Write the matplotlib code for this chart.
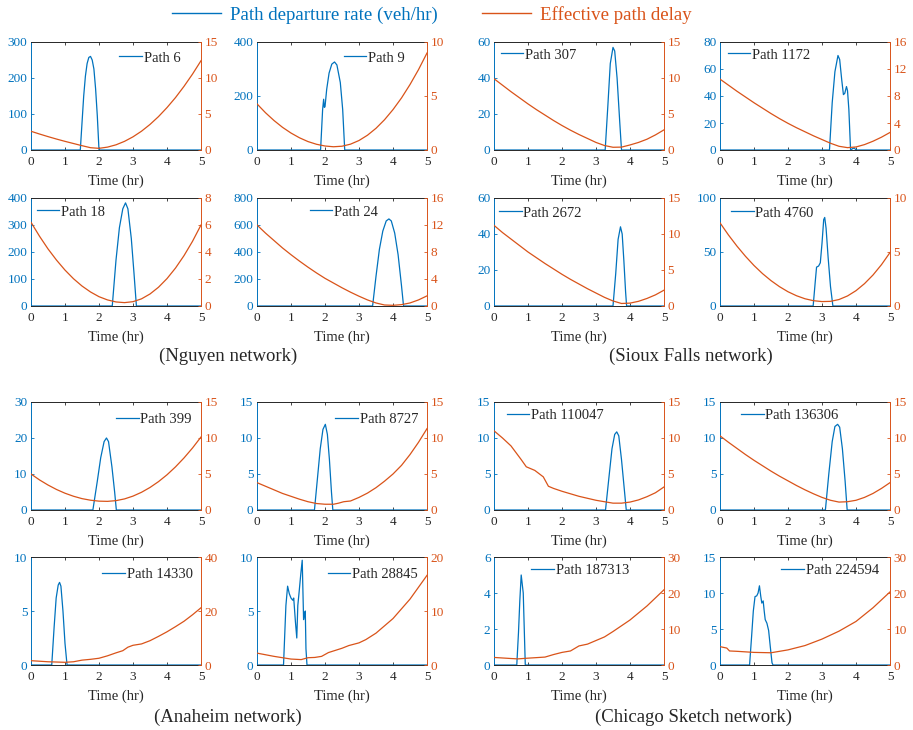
import matplotlib
matplotlib.use("Agg")
import matplotlib.pyplot as plt
from matplotlib.lines import Line2D

BLUE = '#0072BD'
ORANGE = '#D95319'
GRAY = '#262626'

plt.rcParams['font.family'] = ['Liberation Serif', 'DejaVu Serif']

# shared time grid (hr) for the smooth delay curves
grid = [0, 0.25, 0.5, 0.75, 1, 1.25, 1.5, 1.75, 2, 2.25, 2.5,
        2.75, 3, 3.25, 3.5, 3.75, 4, 4.25, 4.5, 4.75, 5]

# ---- Nguyen network ----
dep_t_6 = [0, 1.45, 1.5, 1.55, 1.6, 1.65, 1.7, 1.75, 1.8, 1.85, 1.9, 1.95, 2.0, 5]
dep_r_6 = [0, 0, 75, 150, 205, 240, 257, 260, 250, 225, 170, 95, 0, 0]
delay_6 = [2.6, 2.22, 1.86, 1.52, 1.2, 0.9, 0.6, 0.32, 0.23, 0.4, 0.72,
           1.2, 1.83, 2.61, 3.55, 4.64, 5.89, 7.28, 8.84, 10.54, 12.4]

dep_t_9 = [0, 1.87, 1.93, 1.96, 1.98, 2.0, 2.05, 2.12, 2.2, 2.28, 2.35, 2.45, 2.52, 2.58, 5]
dep_r_9 = [0, 0, 150, 188, 158, 160, 225, 285, 318, 326, 315, 250, 150, 0, 0]
delay_9 = [4.27, 3.45, 2.73, 2.1, 1.57, 1.13, 0.78, 0.53, 0.37, 0.3, 0.35,
           0.54, 0.88, 1.37, 2.01, 2.8, 3.74, 4.82, 6.06, 7.44, 8.98]

dep_t_18 = [0, 2.39, 2.5, 2.6, 2.7, 2.78, 2.85, 2.95, 3.03, 3.1, 5]
dep_r_18 = [0, 0, 170, 290, 360, 382, 360, 250, 120, 0, 0]
delay_18 = [6.2, 5.17, 4.23, 3.4, 2.66, 2.02, 1.48, 1.04, 0.69, 0.45, 0.3,
            0.25, 0.32, 0.53, 0.89, 1.39, 2.03, 2.81, 3.73, 4.79, 6.0]

dep_t_24 = [0, 3.4, 3.5, 3.6, 3.7, 3.8, 3.88, 3.95, 4.05, 4.15, 4.25, 4.31, 5]
dep_r_24 = [0, 0, 220, 420, 555, 630, 645, 630, 540, 380, 150, 0, 0]
delay_24 = [12.0, 10.8, 9.7, 8.6, 7.6, 6.65, 5.75, 4.9, 4.1, 3.4, 2.7,
            2.05, 1.45, 0.9, 0.45, 0.15, 0.1, 0.2, 0.45, 0.9, 1.5]

# ---- Sioux Falls network ----
dep_t_307 = [0, 3.27, 3.35, 3.42, 3.5, 3.55, 3.62, 3.7, 3.75, 5]
dep_r_307 = [0, 0, 25, 48, 57, 55, 40, 15, 0, 0]
delay_307 = [9.9, 9.0, 8.1, 7.25, 6.4, 5.6, 4.85, 4.1, 3.4, 2.75, 2.15,
             1.6, 1.05, 0.62, 0.38, 0.4, 0.7, 1.05, 1.5, 2.1, 2.8]

dep_t_1172 = [0, 3.22, 3.3, 3.38, 3.47, 3.52, 3.58, 3.63, 3.67, 3.72, 3.75,
              3.79, 3.84, 3.9, 3.95, 4.0, 5]
dep_r_1172 = [0, 0, 35, 58, 70, 67, 52, 41, 42, 47, 44, 30, 0, 1, 1.5, 0, 0]
delay_1172 = [10.5, 9.6, 8.7, 7.85, 7.0, 6.2, 5.4, 4.65, 3.95, 3.3, 2.7,
              2.1, 1.55, 1.0, 0.55, 0.35, 0.45, 0.8, 1.3, 1.9, 2.6]

dep_t_2672 = [0, 3.5, 3.58, 3.65, 3.72, 3.77, 3.82, 3.87, 3.9, 5]
dep_r_2672 = [0, 0, 18, 37, 44, 40, 25, 8, 0, 0]
delay_2672 = [11.2, 10.2, 9.3, 8.4, 7.5, 6.7, 5.9, 5.15, 4.4, 3.7, 3.05,
              2.4, 1.8, 1.2, 0.7, 0.35, 0.4, 0.65, 1.05, 1.55, 2.2]

dep_t_4760 = [0, 2.74, 2.8, 2.84, 2.9, 2.95, 3.0, 3.05, 3.08, 3.12, 3.18, 3.25, 3.32, 5]
dep_r_4760 = [0, 0, 22, 36, 37, 40, 58, 80, 82, 72, 45, 18, 0, 0]
delay_4760 = [7.7, 6.57, 5.54, 4.6, 3.75, 3.0, 2.35, 1.79, 1.32, 0.95, 0.67,
              0.49, 0.41, 0.43, 0.6, 0.93, 1.42, 2.07, 2.87, 3.83, 4.95]

# ---- Anaheim network ----
dep_t_399 = [0, 1.82, 1.95, 2.05, 2.15, 2.22, 2.28, 2.38, 2.46, 2.51, 5]
dep_r_399 = [0, 0, 8, 14.5, 19, 20, 19, 12, 5, 0, 0]
delay_399 = [5.0, 4.18, 3.47, 2.85, 2.33, 1.91, 1.58, 1.36, 1.23, 1.2, 1.3,
             1.54, 1.93, 2.46, 3.13, 3.94, 4.89, 5.99, 7.23, 8.61, 10.14]

dep_t_8727 = [0, 1.69, 1.78, 1.86, 1.94, 2.01, 2.07, 2.13, 2.19, 2.23, 5]
dep_r_8727 = [0, 0, 4.5, 8.5, 11.2, 11.9, 10.5, 7, 2.5, 0, 0]
delay_t_8727 = [0, 0.25, 0.5, 0.75, 1, 1.25, 1.5, 1.75, 2, 2.25, 2.4, 2.55,
                2.75, 3, 3.25, 3.5, 3.75, 4, 4.25, 4.5, 4.75, 5]
delay_8727 = [3.8, 3.3, 2.8, 2.3, 1.9, 1.5, 1.15, 0.9, 0.8, 0.8, 0.95, 1.15,
              1.25, 1.75, 2.35, 3.1, 4.0, 5.0, 6.2, 7.7, 9.4, 11.3]

dep_t_14330 = [0, 0.61, 0.68, 0.74, 0.8, 0.84, 0.88, 0.94, 1.0, 1.06, 5]
dep_r_14330 = [0, 0, 3.5, 6.2, 7.4, 7.65, 7.3, 5.0, 2.0, 0, 0]
delay_t_14330 = [0, 0.5, 1.0, 1.25, 1.5, 1.75, 2.0, 2.25, 2.5, 2.7, 2.85, 3.0,
                 3.25, 3.5, 3.75, 4.0, 4.25, 4.5, 4.75, 5.0]
delay_14330 = [1.6, 1.2, 1.0, 1.2, 1.8, 2.1, 2.5, 3.4, 4.5, 5.3, 6.6, 7.3,
               7.8, 9.0, 10.6, 12.3, 14.2, 16.2, 18.6, 21.2]

dep_t_28845 = [0, 0.78, 0.85, 0.9, 0.95, 1.0, 1.05, 1.08, 1.13, 1.17, 1.2, 1.24,
               1.29, 1.33, 1.37, 1.39, 1.42, 1.44, 1.47, 5]
dep_r_28845 = [0, 0, 5.5, 7.3, 6.6, 6.2, 6.0, 6.2, 4.0, 2.5, 5.5, 6.8,
               8.5, 9.7, 4.2, 4.6, 5.0, 1.5, 0, 0]
delay_t_28845 = [0, 0.5, 1.0, 1.3, 1.5, 1.7, 1.9, 2.1, 2.5, 2.7, 3.0, 3.2,
                 3.5, 4.0, 4.5, 5.0]
delay_28845 = [2.2, 1.6, 1.1, 1.0, 1.35, 1.4, 1.6, 2.3, 3.1, 3.6, 4.1, 4.7,
               5.9, 8.6, 12.2, 16.6]

# ---- Chicago Sketch network ----
dep_t_110047 = [0, 3.28, 3.38, 3.47, 3.55, 3.61, 3.67, 3.75, 3.83, 3.89, 5]
dep_r_110047 = [0, 0, 4.5, 8.5, 10.5, 10.85, 10.3, 7, 3, 0, 0]
delay_t_110047 = [0, 0.25, 0.5, 0.8, 0.95, 1.2, 1.45, 1.6, 1.75, 2.0, 2.5,
                  3.0, 3.5, 3.75, 4.0, 4.25, 4.5, 4.75, 5.0]
delay_110047 = [11.0, 10.0, 8.9, 7.0, 6.0, 5.5, 4.6, 3.3, 3.0, 2.6, 1.9,
                1.35, 0.95, 0.95, 1.1, 1.4, 1.85, 2.4, 3.2]

dep_t_136306 = [0, 3.1, 3.2, 3.3, 3.38, 3.46, 3.52, 3.6, 3.68, 3.74, 5]
dep_r_136306 = [0, 0, 5, 9.5, 11.6, 11.9, 11.5, 8.5, 4, 0, 0]
delay_136306 = [10.3, 9.4, 8.55, 7.7, 6.9, 6.15, 5.4, 4.7, 4.05, 3.4, 2.8,
                2.25, 1.75, 1.35, 1.1, 1.15, 1.35, 1.75, 2.3, 3.0, 3.8]

dep_t_187313 = [0, 0.67, 0.72, 0.76, 0.8, 0.83, 0.86, 0.89, 0.92, 5]
dep_r_187313 = [0, 0, 1.8, 3.6, 5.0, 4.5, 4.0, 2.0, 0, 0]
delay_t_187313 = [0, 0.5, 0.7, 1.0, 1.5, 1.75, 2.0, 2.25, 2.5, 2.75, 3.0,
                  3.25, 3.5, 4.0, 4.5, 5.0]
delay_187313 = [2.1, 1.8, 1.7, 1.9, 2.2, 2.9, 3.5, 3.9, 5.3, 5.8, 6.8,
                7.8, 9.3, 12.5, 16.4, 20.9]

dep_t_224594 = [0, 0.87, 0.93, 0.98, 1.03, 1.08, 1.12, 1.16, 1.2, 1.23, 1.27,
                1.3, 1.33, 1.38, 1.43, 1.48, 1.53, 1.56, 5]
dep_r_224594 = [0, 0, 4.0, 7.5, 9.5, 9.6, 10.0, 11.0, 9.5, 8.6, 8.9,
                7.5, 6.3, 5.8, 4.8, 2.5, 0.3, 0, 0]
delay_t_224594 = [0, 0.2, 0.28, 0.5, 1.0, 1.5, 2.0, 2.5, 3.0, 3.5, 4.0, 4.5, 5.0]
delay_224594 = [5.1, 4.7, 3.9, 3.8, 3.5, 3.4, 4.2, 5.4, 7.2, 9.4, 12.1, 15.9, 20.3]

# panel order, left axis (max, step), right axis (max, step)
paths = [6, 9, 307, 1172, 18, 24, 2672, 4760,
         399, 8727, 110047, 136306, 14330, 28845, 187313, 224594]
rate_axis = [(300, 100), (400, 200), (60, 20), (80, 20),
             (400, 100), (800, 200), (60, 20), (100, 50),
             (30, 10), (15, 5), (15, 5), (15, 5),
             (10, 5), (10, 5), (6, 2), (15, 5)]
delay_axis = [(15, 5), (10, 5), (15, 5), (16, 4),
              (8, 2), (16, 4), (15, 5), (10, 5),
              (15, 5), (15, 5), (15, 5), (15, 5),
              (40, 20), (20, 10), (30, 10), (30, 10)]

dep = {6: (dep_t_6, dep_r_6), 9: (dep_t_9, dep_r_9), 18: (dep_t_18, dep_r_18),
       24: (dep_t_24, dep_r_24), 307: (dep_t_307, dep_r_307),
       1172: (dep_t_1172, dep_r_1172), 2672: (dep_t_2672, dep_r_2672),
       4760: (dep_t_4760, dep_r_4760), 399: (dep_t_399, dep_r_399),
       8727: (dep_t_8727, dep_r_8727), 14330: (dep_t_14330, dep_r_14330),
       28845: (dep_t_28845, dep_r_28845), 110047: (dep_t_110047, dep_r_110047),
       136306: (dep_t_136306, dep_r_136306), 187313: (dep_t_187313, dep_r_187313),
       224594: (dep_t_224594, dep_r_224594)}
delay = {6: (grid, delay_6), 9: (grid, delay_9), 18: (grid, delay_18),
         24: (grid, delay_24), 307: (grid, delay_307), 1172: (grid, delay_1172),
         2672: (grid, delay_2672), 4760: (grid, delay_4760), 399: (grid, delay_399),
         8727: (delay_t_8727, delay_8727), 14330: (delay_t_14330, delay_14330),
         28845: (delay_t_28845, delay_28845), 110047: (delay_t_110047, delay_110047),
         136306: (grid, delay_136306), 187313: (delay_t_187313, delay_187313),
         224594: (delay_t_224594, delay_224594)}

groups = ['(Nguyen network)', '(Sioux Falls network)',
          '(Anaheim network)', '(Chicago Sketch network)']

# layout in pixels (913 x 730 figure)
FW, FH = 913, 730
col_left = [31, 257, 494, 720]
row_top = [42, 198, 402, 557]
AW, AH = 170, 108
# legend anchor: fraction of axes width, pixels below the top
leg_pos = [(0.52, 16), (0.51, 16), (0.04, 13), (0.045, 13),
           (0.034, 14), (0.31, 14), (0.03, 15), (0.065, 15),
           (0.50, 17), (0.46, 17), (0.075, 13), (0.124, 13),
           (0.42, 17), (0.416, 17), (0.22, 13), (0.36, 13)]
group_pos = [(228, 356), (691, 356), (228, 717), (693, 717)]

fig = plt.figure(figsize=(FW / 100, FH / 100), dpi=100)

for k, pid in enumerate(paths):
    r, c = divmod(k, 4)
    ax = fig.add_axes([col_left[c] / FW, 1 - (row_top[r] + AH) / FH, AW / FW, AH / FH])
    ax2 = ax.twinx()

    t, rate = dep[pid]
    ax.plot(t, rate, color=BLUE, lw=0.9, label=f'Path {pid}')
    td, d = delay[pid]
    ax2.plot(td, d, color=ORANGE, lw=0.9)

    rmax, rstep = rate_axis[k]
    dmax, dstep = delay_axis[k]
    ax.set_xlim(0, 5)
    ax.set_ylim(0, rmax)
    ax.set_yticks(range(0, rmax + 1, rstep))
    ax2.set_ylim(0, dmax)
    ax2.set_yticks(range(0, dmax + 1, dstep))
    ax.set_xticks(range(0, 6))

    for s in ['top', 'bottom']:
        ax.spines[s].set_color(GRAY)
        ax2.spines[s].set_visible(False)
    ax.spines['left'].set_color(BLUE)
    ax.spines['right'].set_visible(False)
    ax2.spines['left'].set_visible(False)
    ax2.spines['right'].set_color(ORANGE)
    for s in ax.spines.values():
        s.set_linewidth(0.7)
    ax2.spines['right'].set_linewidth(0.7)

    ax.tick_params(axis='x', colors=GRAY, direction='in', top=True,
                   length=2.5, width=0.6, labelsize=9.5, pad=4.5)
    ax.tick_params(axis='y', colors=BLUE, direction='in',
                   length=2.5, width=0.6, labelsize=9.5, pad=2.5)
    ax2.tick_params(axis='y', colors=ORANGE, direction='in',
                    length=2.5, width=0.6, labelsize=9.5, pad=2.5)
    ax.set_xlabel('Time (hr)', fontsize=10.5, color=GRAY, labelpad=4.5)

    fx, dy = leg_pos[k]
    ax.legend(loc='center left', bbox_to_anchor=(fx, 1 - dy / AH), frameon=False,
              fontsize=10.5, handlelength=1.55, handletextpad=0.12,
              borderpad=0, borderaxespad=0, labelcolor=GRAY)

for label, (x, y) in zip(groups, group_pos):
    fig.text(x / FW, 1 - y / FH, label, ha='center', va='center',
             fontsize=13.5, color=GRAY)

handles = [Line2D([], [], color=BLUE, lw=1.0), Line2D([], [], color=ORANGE, lw=1.0)]
fig.legend(handles, ['Path departure rate (veh/hr)', 'Effective path delay'],
           loc='center', bbox_to_anchor=(0.473, 1 - 15 / FH), ncol=2,
           frameon=False, fontsize=13.6, handlelength=2.6, handletextpad=0.5,
           columnspacing=2.3, labelcolor='linecolor')

fig.savefig('out.png', dpi=100)
